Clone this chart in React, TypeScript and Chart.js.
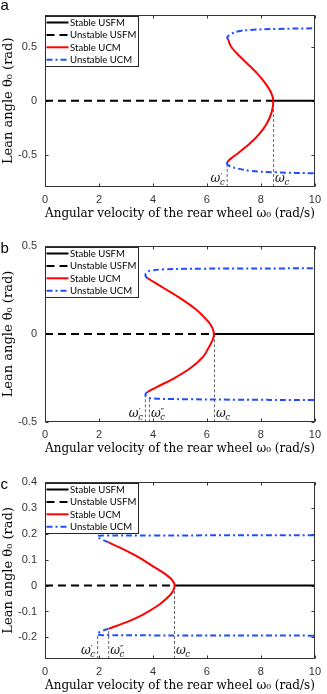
import React, { useEffect, useRef } from 'react';
import { Chart, registerables } from 'chart.js';
Chart.register(...registerables);

// ---------- shared ----------
const xTicks = [0, 2, 4, 6, 8, 10];
const xRange = [0, 10];
const legendLabels = ['Stable USFM', 'Unstable USFM', 'Stable UCM', 'Unstable UCM'];
const xTitle = 'Angular velocity of the rear wheel ω₀ (rad/s)';
const yTitle = 'Lean angle θ₀ (rad)';

// ---------- panel a ----------
const yTicksA = [-0.5, 0, 0.5];
const yRangeA = [-0.8, 0.8];
const omegaCA = 8.47;
const redAX = [6.8, 6.84, 6.93, 7.13, 7.5, 7.86, 8.16, 8.38, 8.46, 8.4, 8.22, 7.92, 7.56, 7.19, 6.92, 6.8, 6.76];
const redAY = [0.565, 0.53, 0.49, 0.434, 0.344, 0.254, 0.164, 0.075, 0, -0.105, -0.21, -0.314, -0.404, -0.479, -0.53, -0.555, -0.57];
const blueUpAX = [6.8, 6.75, 6.79, 6.89, 7.13, 7.62, 8.59, 10];
const blueUpAY = [0.565, 0.585, 0.602, 0.619, 0.643, 0.658, 0.667, 0.673];
const blueLoAX = [6.76, 6.74, 6.8, 6.89, 7.13, 7.62, 8.59, 10];
const blueLoAY = [-0.57, -0.582, -0.598, -0.612, -0.628, -0.65, -0.664, -0.673];
const markXA = [6.75, 8.47];
const markTopA = [-0.582, 0];
const markPrimesA = ['′', ''];

// ---------- panel b ----------
const yTicksB = [-0.5, 0, 0.5];
const yRangeB = [-0.5, 0.5];
const omegaCB = 6.28;
const redBX = [3.81, 4.1, 4.41, 5.02, 5.62, 6.05, 6.2, 6.26, 6.22, 6.12, 5.86, 5.38, 4.78, 4.17, 3.87, 3.81];
const redBY = [0.315, 0.288, 0.259, 0.202, 0.136, 0.07, 0.035, 0, -0.03, -0.062, -0.128, -0.194, -0.251, -0.298, -0.322, -0.327];
const blueUpBX = [3.81, 3.74, 3.72, 3.78, 3.93, 4.41, 5.86, 10];
const blueUpBY = [0.315, 0.324, 0.336, 0.35, 0.359, 0.366, 0.37, 0.372];
const blueLoBX = [3.81, 3.74, 3.72, 3.78, 3.93, 4.65, 7.07, 10];
const blueLoBY = [-0.327, -0.336, -0.346, -0.357, -0.364, -0.368, -0.372, -0.374];
const markXB = [3.72, 3.87, 6.28];
const markTopB = [-0.346, -0.362, 0];
const markPrimesB = ['′', '″', ''];

// ---------- panel c ----------
const yTicksC = [-0.2, -0.1, 0, 0.1, 0.2, 0.3, 0.4];
const yRangeC = [-0.283, 0.4];
const omegaCC = 4.8;
const redCX = [2.36, 2.78, 3.38, 3.99, 4.22, 4.47, 4.68, 4.78, 4.8, 4.77, 4.65, 4.45, 4.23, 3.63, 3.02, 2.42, 2.36];
const redCY = [0.166, 0.146, 0.114, 0.075, 0.06, 0.043, 0.025, 0.01, 0, -0.015, -0.035, -0.055, -0.074, -0.112, -0.141, -0.164, -0.166];
const blueUpCX = [2.36, 2.1, 1.94, 1.97, 2.3, 4, 10];
const blueUpCY = [0.166, 0.178, 0.188, 0.192, 0.193, 0.193, 0.194];
const blueLoCX = [2.36, 2.1, 1.94, 1.97, 2.3, 4, 10];
const blueLoCY = [-0.166, -0.176, -0.185, -0.19, -0.191, -0.192, -0.193];
const markXC = [1.95, 2.36, 4.8];
const markTopC = [-0.186, -0.166, 0];
const markPrimesC = ['′', '″', ''];

// ---------- styles ----------
const BLACK = '#000000';
const RED = '#ff0000';
const BLUE = '#1f4cff';
const GRAY = '#666666';
const DASH_BLACK = [8, 5];
const DASH_BLUE = [6, 3, 2, 3];
const DASH_GRAY = [3, 2];
const legendStyles = [
  { color: BLACK, dash: [] as number[] },
  { color: BLACK, dash: DASH_BLACK },
  { color: RED, dash: [] as number[] },
  { color: BLUE, dash: DASH_BLUE },
];

const pts = (xs: number[], ys: number[]) => xs.map((x, i) => ({ x, y: ys[i] }));

type Panel = {
  letter: string;
  canvasTop: number;
  canvasH: number;
  plotTop: number;
  plotBottom: number;
  titleMid: number;
  letterBase: number;
  yTicks: number[];
  yRange: number[];
  omegaC: number;
  red: { x: number; y: number }[];
  blueUp: { x: number; y: number }[];
  blueLo: { x: number; y: number }[];
  markX: number[];
  markTop: number[];
  markPrimes: string[];
};

const panels: Panel[] = [
  {
    letter: 'a', canvasTop: 0, canvasH: 225, plotTop: 10, plotBottom: 187, titleMid: 213.5, letterBase: 9.5,
    yTicks: yTicksA, yRange: yRangeA, omegaC: omegaCA,
    red: pts(redAX, redAY), blueUp: pts(blueUpAX, blueUpAY), blueLo: pts(blueLoAX, blueLoAY),
    markX: markXA, markTop: markTopA, markPrimes: markPrimesA,
  },
  {
    letter: 'b', canvasTop: 225, canvasH: 235, plotTop: 245.7, plotBottom: 422.3, titleMid: 449, letterBase: 252.5,
    yTicks: yTicksB, yRange: yRangeB, omegaC: omegaCB,
    red: pts(redBX, redBY), blueUp: pts(blueUpBX, blueUpBY), blueLo: pts(blueLoBX, blueLoBY),
    markX: markXB, markTop: markTopB, markPrimes: markPrimesB,
  },
  {
    letter: 'c', canvasTop: 460, canvasH: 234, plotTop: 481.7, plotBottom: 659, titleMid: 685.5, letterBase: 488.5,
    yTicks: yTicksC, yRange: yRangeC, omegaC: omegaCC,
    red: pts(redCX, redCY), blueUp: pts(blueUpCX, blueUpCY), blueLo: pts(blueLoCX, blueLoCY),
    markX: markXC, markTop: markTopC, markPrimes: markPrimesC,
  },
];

const SERIF = '"DejaVu Serif", "Liberation Serif", serif';
const TICK_FONT = { family: '"Liberation Sans", Arial, sans-serif', size: 11 };
const XTITLE_FONT = { family: SERIF, size: 12.8 };
const YTITLE_FONT = { family: SERIF, size: 13 };

function makeConfig(p: Panel): any {
  const ymin = p.yRange[0];
  const lineH = XTITLE_FONT.size * 1.2;
  const datasets: any[] = [
    { label: 'Stable UCM', data: p.red, borderColor: RED, borderWidth: 2, tension: 0.3 },
    { label: 'Unstable UCM', data: p.blueUp, borderColor: BLUE, borderWidth: 2, borderDash: DASH_BLUE, tension: 0.4 },
    { label: 'Unstable UCM', data: p.blueLo, borderColor: BLUE, borderWidth: 2, borderDash: DASH_BLUE, tension: 0.4 },
    { label: 'Unstable USFM', data: [{ x: xRange[0], y: 0 }, { x: p.omegaC, y: 0 }], borderColor: BLACK, borderWidth: 2, borderDash: DASH_BLACK },
    { label: 'Stable USFM', data: [{ x: p.omegaC, y: 0 }, { x: xRange[1], y: 0 }], borderColor: BLACK, borderWidth: 2 },
  ];
  p.markX.forEach((mx, i) => {
    datasets.push({
      label: 'mark', data: [{ x: mx, y: ymin }, { x: mx, y: p.markTop[i] }],
      borderColor: GRAY, borderWidth: 1, borderDash: DASH_GRAY,
    });
  });
  datasets.forEach((d) => { d.pointRadius = 0; d.fill = false; d.backgroundColor = d.borderColor; });

  const plugin = {
    id: 'matlabFrame',
    beforeDatasetsDraw(chart: any) {
      const { ctx, chartArea: ca, scales } = chart;
      ctx.save();
      ctx.strokeStyle = '#333333';
      ctx.lineWidth = 1;
      const L = Math.round(ca.left) + 0.5, R = Math.round(ca.right) - 0.5;
      const T = Math.round(ca.top) + 0.5, B = Math.round(ca.bottom) - 0.5;
      ctx.beginPath();
      scales.x.ticks.forEach((t: any) => {
        const px = Math.round(scales.x.getPixelForValue(t.value)) + 0.5;
        ctx.moveTo(px, B); ctx.lineTo(px, B - 3);
        ctx.moveTo(px, T); ctx.lineTo(px, T + 3);
      });
      scales.y.ticks.forEach((t: any) => {
        const py = Math.round(scales.y.getPixelForValue(t.value)) + 0.5;
        ctx.moveTo(L, py); ctx.lineTo(L + 3, py);
        ctx.moveTo(R, py); ctx.lineTo(R - 3, py);
      });
      ctx.stroke();
      ctx.restore();
    },
    afterDatasetsDraw(chart: any) {
      const { ctx, chartArea: ca, scales } = chart;
      ctx.save();
      // frame
      ctx.strokeStyle = '#333333';
      ctx.lineWidth = 1;
      const L = Math.round(ca.left) + 0.5, R = Math.round(ca.right) - 0.5;
      const T = Math.round(ca.top) + 0.5, B = Math.round(ca.bottom) - 0.5;
      ctx.strokeRect(L, T, R - L, B - T);

      // omega marks
      const fW = 'italic 12px ' + SERIF;
      const fP = '9px ' + SERIF;
      const fC = 'italic 8.5px ' + SERIF;
      p.markX.forEach((mx, i) => {
        const px = scales.x.getPixelForValue(mx);
        const base = ca.bottom - 5.5;
        ctx.font = fW;
        const wW = ctx.measureText('ω').width;
        const prime = p.markPrimes[i];
        ctx.font = fP;
        const wP = prime ? ctx.measureText(prime).width : 0;
        ctx.font = fC;
        const wC = ctx.measureText('c').width;
        const total = wW + Math.max(wP, wC) + 0.5;
        const sx = i === 0 && p.markX.length > 1 ? px - 1.5 - total : px + 1.5;
        ctx.fillStyle = '#111111';
        ctx.textBaseline = 'alphabetic';
        ctx.textAlign = 'left';
        ctx.font = fW;
        ctx.fillText('ω', sx, base);
        if (prime) {
          ctx.font = fP;
          ctx.fillText(prime, sx + wW, base - 1.5);
        }
        ctx.font = fC;
        ctx.fillText('c', sx + wW - 0.5, base + 3);
      });

      // legend
      const lx = Math.round(ca.left) + 0.5, ly = Math.round(ca.top) + 1.5, lw = 93, lh = 50;
      ctx.fillStyle = '#ffffff';
      ctx.fillRect(lx, ly, lw, lh);
      ctx.strokeStyle = '#262626';
      ctx.lineWidth = 1;
      ctx.strokeRect(lx, ly, lw, lh);
      legendLabels.forEach((t, i) => {
        const y = ly + 6 + i * 12.4;
        const st = legendStyles[i];
        ctx.setLineDash(st.dash);
        ctx.strokeStyle = st.color;
        ctx.lineWidth = 2;
        ctx.beginPath();
        ctx.moveTo(lx + 1, y);
        ctx.lineTo(lx + 23, y);
        ctx.stroke();
        ctx.setLineDash([]);
        ctx.fillStyle = '#000000';
        ctx.font = '9.6px Lato, "Liberation Sans", sans-serif';
        ctx.textBaseline = 'middle';
        ctx.textAlign = 'left';
        ctx.fillText(t, lx + 24.5, y + 0.5);
      });

      // panel letter
      ctx.fillStyle = '#000000';
      ctx.font = '15px "Liberation Sans", Arial, sans-serif';
      ctx.textBaseline = 'alphabetic';
      ctx.textAlign = 'left';
      ctx.fillText(p.letter, 0.5, p.letterBase - p.canvasTop);
      ctx.restore();
    },
  };

  return {
    type: 'line',
    data: { datasets },
    options: {
      animation: false,
      responsive: false,
      devicePixelRatio: 1,
      events: [],
      layout: { padding: { left: 0, right: 6.3, top: p.plotTop - p.canvasTop, bottom: 0 } },
      plugins: { legend: { display: false }, tooltip: { enabled: false } },
      scales: {
        x: {
          type: 'linear',
          min: xRange[0],
          max: xRange[1],
          afterBuildTicks: (s: any) => { s.ticks = xTicks.map((v) => ({ value: v })); },
          afterFit: (s: any) => { s.height = p.canvasTop + p.canvasH - p.plotBottom; },
          grid: { display: false, drawTicks: false },
          border: { display: false },
          ticks: { font: TICK_FONT, color: '#333333', padding: 6, maxRotation: 0, autoSkip: false, callback: (v: any) => String(v) },
          title: {
            display: true, text: xTitle, font: XTITLE_FONT, color: '#000000',
            padding: { top: 0, bottom: p.canvasTop + p.canvasH - p.titleMid - lineH / 2 },
          },
        },
        y: {
          type: 'linear',
          min: p.yRange[0],
          max: p.yRange[1],
          afterBuildTicks: (s: any) => { s.ticks = p.yTicks.map((v) => ({ value: v })); },
          afterFit: (s: any) => { s.width = 45; },
          grid: { display: false, drawTicks: false },
          border: { display: false },
          ticks: { font: TICK_FONT, color: '#333333', padding: 8, autoSkip: false, callback: (v: any) => String(v) },
          title: {
            display: true, text: yTitle, font: YTITLE_FONT, color: '#000000',
            padding: { top: 1, bottom: 0 },
          },
        },
      },
    },
    plugins: [plugin],
  };
}

function PanelChart({ p }: { p: Panel }) {
  const ref = useRef<HTMLCanvasElement | null>(null);
  useEffect(() => {
    if (!ref.current) return;
    const chart = new Chart(ref.current, makeConfig(p));
    return () => chart.destroy();
  }, [p]);
  return (
    <canvas
      ref={ref}
      width={327}
      height={p.canvasH}
      style={{ position: 'absolute', left: 0, top: p.canvasTop, width: 327, height: p.canvasH, display: 'block' }}
    />
  );
}

export default function App() {
  return (
    <div style={{ position: 'absolute', left: 0, top: 0, width: 327, height: 694, background: '#ffffff', overflow: 'hidden' }}>
      {panels.map((p) => (
        <PanelChart key={p.letter} p={p} />
      ))}
    </div>
  );
}
